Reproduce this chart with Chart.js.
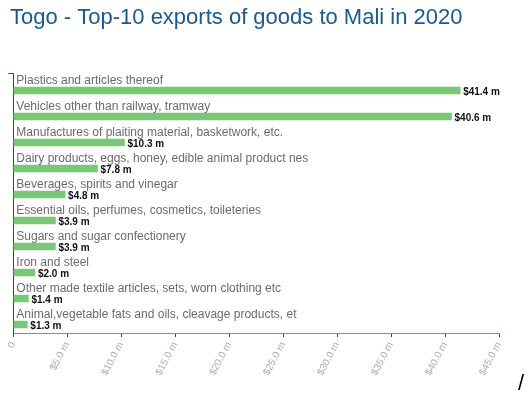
<!DOCTYPE html>
<html>
<head>
<meta charset="utf-8">
<script src="https://cdn.jsdelivr.net/npm/chart.js"></script>
<style>
  html, body { margin: 0; padding: 0; background: #fff; }
  #wrap { width: 528px; height: 393px; position: relative; }
</style>
</head>
<body>
<div id="wrap"><canvas id="exportsChart"></canvas></div>
<script>
const titleText = "Togo - Top-10 exports of goods to Mali in 2020";
const categories = [
  "Plastics and articles thereof",
  "Vehicles other than railway, tramway",
  "Manufactures of plaiting material, basketwork, etc.",
  "Dairy products, eggs, honey, edible animal product nes",
  "Beverages, spirits and vinegar",
  "Essential oils, perfumes, cosmetics, toileteries",
  "Sugars and sugar confectionery",
  "Iron and steel",
  "Other made textile articles, sets, worn clothing etc",
  "Animal,vegetable fats and oils, cleavage products, et"
];
const exportValues = [41.4, 40.6, 10.3, 7.8, 4.8, 3.9, 3.9, 2.0, 1.4, 1.3]; // $ million
const xTicks = [0, 5, 10, 15, 20, 25, 30, 35, 40, 45];

function money(v) {
  return "$" + v.toFixed(1) + " m";
}

// labels above each bar + value after the bar
const barLabels = {
  id: "barLabels",
  afterDatasetsDraw(chart) {
    const ctx = chart.ctx;
    const meta = chart.getDatasetMeta(0);
    const area = chart.chartArea;
    ctx.save();
    meta.data.forEach((bar, i) => {
      ctx.textBaseline = "middle";
      ctx.textAlign = "left";
      ctx.font = "12px Arial, 'Liberation Sans', sans-serif";
      ctx.fillStyle = "#6b6b6b";
      ctx.fillText(categories[i], area.left + 3, bar.y - 10);
      ctx.font = "bold 10px Arial, 'Liberation Sans', sans-serif";
      ctx.fillStyle = "#111";
      ctx.fillText(money(exportValues[i]), bar.x + 3, bar.y + 1.5);
    });
    // little tick at top of the y axis
    ctx.strokeStyle = "#2e4a68";
    ctx.lineWidth = 1;
    ctx.beginPath();
    ctx.moveTo(area.left - 5, area.top + 0.5);
    ctx.lineTo(area.left, area.top + 0.5);
    ctx.stroke();
    // stray mark in the bottom-right corner
    ctx.font = "22px Arial, 'Liberation Sans', sans-serif";
    ctx.fillStyle = "#000";
    ctx.textBaseline = "bottom";
    ctx.fillText("/", 518, 395);
    ctx.restore();
  }
};

const ctx = document.getElementById("exportsChart").getContext("2d");
const chart = new Chart(ctx, {
  type: "bar",
  data: {
    datasets: [{
      data: exportValues.map((v, i) => ({ x: v, y: i })),
      backgroundColor: "#7cc67a",
      barThickness: 7
    }]
  },
  options: {
    indexAxis: "y",
    responsive: true,
    maintainAspectRatio: false,
    animation: false,
    layout: { padding: { left: 10, right: 29, top: 0, bottom: 0 } },
    plugins: {
      legend: { display: false },
      tooltip: { enabled: false },
      title: {
        display: true,
        text: titleText,
        align: "start",
        color: "#1a5a8c",
        font: { size: 22, family: "Arial, 'Liberation Sans', sans-serif", weight: "normal", lineHeight: 1.2 },
        padding: { top: 5, bottom: 41.6 }
      }
    },
    scales: {
      x: {
        type: "linear",
        min: 0,
        max: 45,
        afterBuildTicks: axis => { axis.ticks = xTicks.map(v => ({ value: v })); },
        afterFit: axis => { axis.height = 60; },
        grid: { drawOnChartArea: false, color: "#1f4e7a", tickLength: 4 },
        border: { color: "#6f93b8" },
        ticks: {
          minRotation: 62,
          maxRotation: 62,
          color: "#adadad",
          font: { size: 10, family: "Arial, 'Liberation Sans', sans-serif" },
          callback: v => (v === 0 ? "0" : money(v))
        }
      },
      y: {
        type: "linear",
        reverse: true,
        offset: false,
        min: -0.673,
        max: 9.327,
        afterFit: axis => { axis.width = 3.3; },
        grid: { display: false },
        border: { display: true, color: "#2e4a68" },
        ticks: { display: false }
      }
    }
  },
  plugins: [barLabels]
});
</script>
</body>
</html>
